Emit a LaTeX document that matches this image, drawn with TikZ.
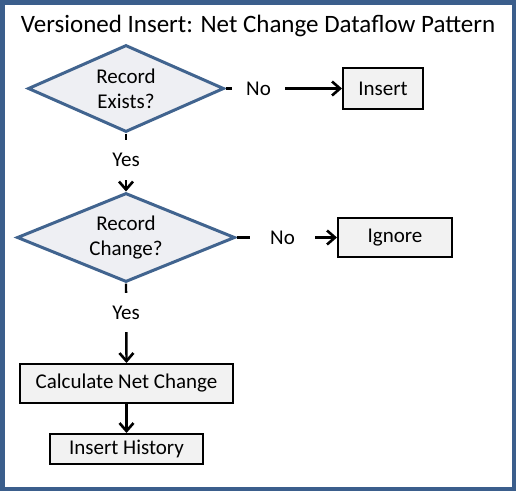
\documentclass[tikz,border=0pt]{standalone}
\usepackage{fontspec}
\setmainfont{Carlito}
\usetikzlibrary{shapes.geometric,arrows.meta}
\definecolor{framec}{HTML}{3B5E8C}
\definecolor{dborder}{HTML}{41648F}
\definecolor{dfill}{HTML}{EEEFF3}
\definecolor{bfill}{HTML}{F2F2F2}
\tikzset{
  decision/.style={shape=diamond, draw=dborder, fill=dfill, line width=3pt, inner sep=0pt,
    align=center, font=\fontsize{21}{25}\selectfont},
  procbox/.style={draw=black, fill=bfill, line width=2pt, inner sep=0pt,
    font=\fontsize{21}{25}\selectfont},
  flow/.style={line width=2.4pt, -{Straight Barb[length=8pt,width=14pt,line width=2.6pt]}},
  flowlabel/.style={fill=white, inner sep=0pt, font=\fontsize{21}{25}\selectfont}
}
\begin{document}
\begin{tikzpicture}[x=1pt,y=-1pt]
\useasboundingbox (0,0) rectangle (516,491);
\fill[white] (0,0) rectangle (516,491);
\draw[framec, line width=4.5pt] (2.25,2.25) rectangle (513.75,488.75);
\node[font=\fontsize{25}{29}\selectfont] (title) at (258,25.5) {Versioned Insert: Net Change Dataflow Pattern};
\node[decision, aspect=2.25, minimum width=196pt, minimum height=87pt] (d1) at (126,88.5) {Record\\Exists?};
\node[decision, aspect=2.45, minimum width=218pt, minimum height=89pt] (d2) at (126,237.5) {Record\\Change?};
\node[procbox, minimum width=80pt, minimum height=41pt] (ins) at (383,88.5) {Insert};
\node[procbox, minimum width=114pt, minimum height=39pt] (ign) at (395,237.5) {Ignore};
\node[procbox, minimum width=213pt, minimum height=39pt] (calc) at (126.5,383.5) {Calculate Net Change};
\node[procbox, minimum width=153pt, minimum height=30pt] (hist) at (126.5,449) {Insert History};
\draw[flow] (d1.east) -- (ins.west);
\draw[flow] (d2.east) -- (ign.west);
\draw[flow] (d1.south) -- (d2.north);
\draw[flow] (d2.south) -- (calc.north);
\draw[flow] (calc.south) -- (hist.north);
\node[flowlabel, minimum width=53pt, minimum height=30pt] (no1) at (258.5,89) {No};
\node[flowlabel, minimum width=65pt, minimum height=30pt] (no2) at (282.5,238) {No};
\node[flowlabel, minimum width=40pt, minimum height=40pt] (yes1) at (126,160) {Yes};
\node[flowlabel, minimum width=40pt, minimum height=39pt] (yes2) at (126,312.5) {Yes};
\end{tikzpicture}
\end{document}
